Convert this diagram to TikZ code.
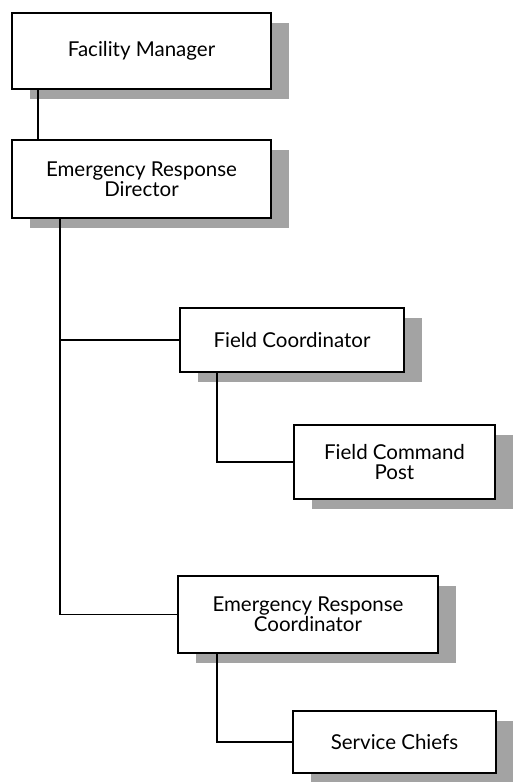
\documentclass[tikz,border=0pt]{standalone}
\usepackage{fontspec}
\setmainfont{Lato}
\usetikzlibrary{shadows}
\begin{document}
\begin{tikzpicture}[x=1pt,y=-1pt,line width=1.4pt,
  post/.style={draw,fill=white,rectangle,inner sep=0pt,align=center,
    font=\fontsize{20.5}{20}\selectfont,
    drop shadow={shadow xshift=18pt,shadow yshift=-10pt,fill=black!36,opacity=1}},
  link/.style={line width=1.7pt}]
 \path (0,0) (512,782);
 \node[post,minimum width=259pt,minimum height=76pt] (fm) at (141.5,51) {Facility Manager};
 \node[post,minimum width=259pt,minimum height=78pt] (erd) at (141.5,179) {Emergency Response\\Director};
 \node[post,minimum width=224pt,minimum height=64pt] (fc) at (292,340) {Field Coordinator};
 \node[post,minimum width=201pt,minimum height=74pt] (fcp) at (394.5,462) {Field Command\\Post};
 \node[post,minimum width=260pt,minimum height=77pt] (erc) at (308,614.5) {Emergency Response\\Coordinator};
 \node[post,minimum width=203pt,minimum height=62pt] (sc) at (394.5,742) {Service Chiefs};
 % connectors
 \draw[link] ([xshift=27pt]fm.south west) -- ([xshift=27pt]erd.north west);
 \draw[link] ([xshift=48.5pt]erd.south west) |- (fc.west);
 \draw[link] ([xshift=48.5pt]erd.south west) |- (erc.west);
 \draw[link] ([xshift=38pt]fc.south west) |- (fcp.west);
 \draw[link] ([xshift=40pt]erc.south west) |- (sc.west);
\end{tikzpicture}
\end{document}
